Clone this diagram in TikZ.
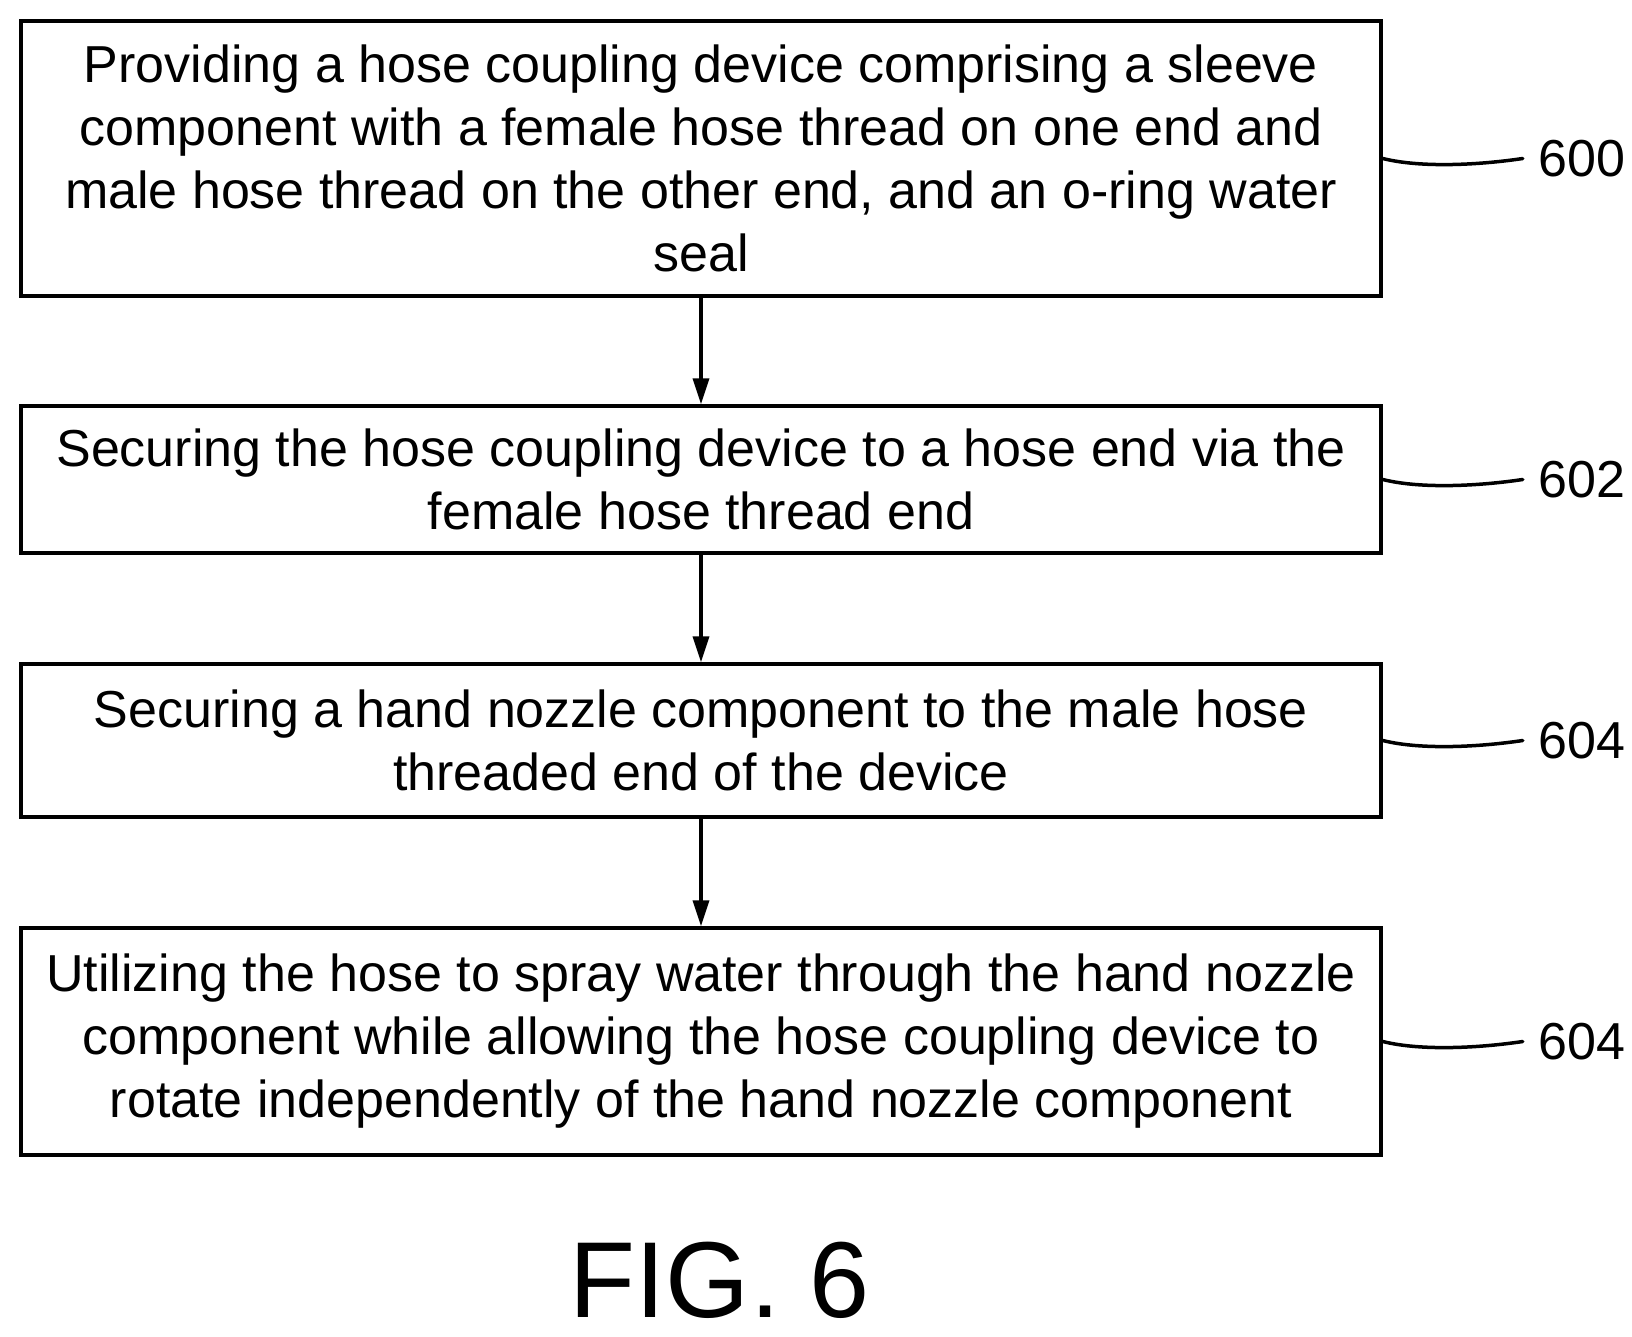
\documentclass[tikz,border=0pt]{standalone}
\usepackage{fontspec}
\setmainfont{Liberation Sans}
\usetikzlibrary{arrows.meta}

\begin{document}
\begin{tikzpicture}[x=1pt, y=-1pt,
    stepbox/.style={draw, line width=3.5pt, minimum width=1360pt, align=center,
        font=\fontsize{52}{63}\selectfont, inner sep=0pt},
    flow/.style={line width=3.5pt, -{Triangle[length=26pt, width=16pt]}},
    lead/.style={line width=3.5pt, line cap=round},
    refnum/.style={font=\fontsize{52}{63}\selectfont, anchor=west}
]
    \useasboundingbox (0,0) rectangle (1632,1337);

    \node[stepbox, minimum height=275pt] (s600) at (701,158.5)
        {Providing a hose coupling device comprising a sleeve\\ component with a female hose thread on one end and\\ male hose thread on the other end, and an o-ring water\\ seal};
    \node[stepbox, minimum height=147pt] (s602) at (701,479.5)
        {Securing the hose coupling device to a hose end via the\\ female hose thread end};
    \node[stepbox, minimum height=153pt] (s604) at (701,740.5)
        {Securing a hand nozzle component to the male hose\\ threaded end of the device};
    \node[stepbox, minimum height=227pt] (s606) at (701,1041.5)
        {Utilizing the hose to spray water through the hand nozzle\\ component while allowing the hose coupling device to\\ rotate independently of the hand nozzle component};

    \draw[flow] (s600) -- (s602);
    \draw[flow] (s602) -- (s604);
    \draw[flow] (s604) -- (s606);

    % reference numerals
    \foreach \b/\t in {s600/600, s602/602, s604/604, s606/604} {
        \node[refnum] (n\b) at ([xshift=152pt]\b.east) {\t};
        \draw[lead] (\b.east) .. controls +(40pt,-10pt) and +(-40pt,-6pt) .. ([xshift=-12pt]n\b.west);
    }

    \node[font=\fontsize{108}{110}\selectfont] (fig) at (720,1280) {FIG. 6};
\end{tikzpicture}
\end{document}
